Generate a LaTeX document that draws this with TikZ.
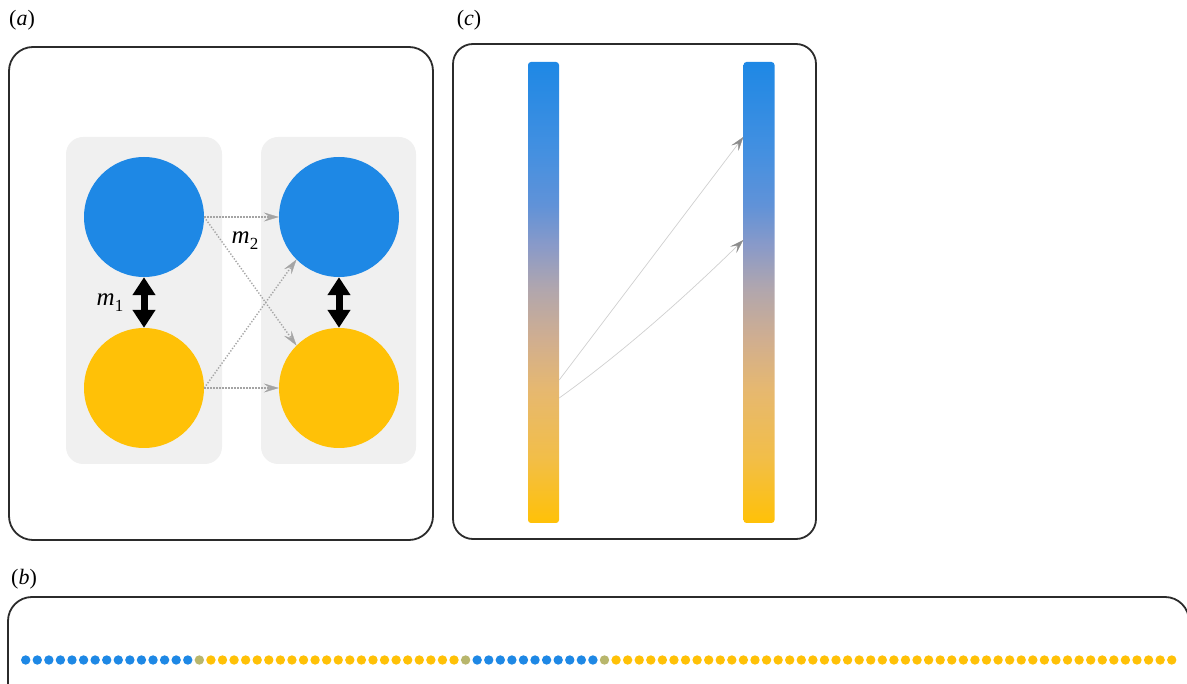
\documentclass[tikz,border=0pt]{standalone}
\usepackage{fontspec}
\setmainfont{Liberation Serif}
\usetikzlibrary{arrows.meta}
\definecolor{cblue}{HTML}{1E88E5}
\definecolor{camber}{HTML}{FFC107}
\definecolor{colive}{HTML}{B8B66C}
\definecolor{panelgray}{HTML}{F0F0F0}
\definecolor{framec}{HTML}{2B2B2B}
\definecolor{dotgray}{HTML}{A4A4A4}
\definecolor{tipgray}{HTML}{8C8C8C}
\definecolor{thingray}{HTML}{CFCFCF}
\definecolor{ga}{HTML}{4590E0}
\definecolor{gb}{HTML}{6092D8}
\definecolor{gc}{HTML}{8A9AC8}
\definecolor{gd}{HTML}{B0A6AE}
\definecolor{ge}{HTML}{D0AE90}
\definecolor{gf}{HTML}{E6B870}
\definecolor{gg}{HTML}{F2BE48}
\pgfdeclareverticalshading{bargrad}{100bp}{color(0bp)=(camber); color(25bp)=(camber); color(32bp)=(gg); color(39.5bp)=(gf); color(45bp)=(ge); color(50.5bp)=(gd); color(55bp)=(gc); color(59.5bp)=(gb); color(65bp)=(ga); color(75bp)=(cblue); color(100bp)=(cblue)}
\tikzset{
  frame/.style={draw=framec, line width=1.8pt, rounded corners=24pt},
  panel/.style={fill=panelgray, rounded corners=17pt},
  ball/.style={circle, minimum size=120pt, inner sep=0pt},
  dotarrow/.style={draw=dotgray, line width=1.4pt, dash pattern=on 1.3pt off 1.7pt, -{Stealth[length=15pt,width=9pt,inset=6pt,color=dotgray,fill=dotgray,line width=0.3pt]}},
  dblarrow/.style={draw=black, line width=7pt, {Triangle[length=18pt,width=22pt]}-{Triangle[length=18pt,width=22pt]}},
  bar/.style={shading=bargrad, rounded corners=3pt, minimum width=31pt, minimum height=461pt, inner sep=0pt},
  thinarrow/.style={draw=thingray, line width=0.7pt, -{Stealth[length=14pt,width=9pt,inset=6pt,color=tipgray,fill=tipgray,line width=0.3pt]}},
  seqdot/.style={circle, minimum size=9.4pt, inner sep=0pt},
  lab/.style={font=\fontsize{22}{26}\selectfont, inner sep=0pt},
  mlab/.style={font=\fontsize{25}{28}\selectfont, inner sep=0pt}
}
\begin{document}
\begin{tikzpicture}[x=1pt, y=-1pt]
\useasboundingbox (0,0) rectangle (1187,684);
\clip (0,0) rectangle (1187,684);
% labels
\node[lab] (la) at (22,20) {(\textit{a})};
\node[lab] (lc) at (469,20) {(\textit{c})};
\node[lab] (lbb) at (24,579) {(\textit{b})};
% panel a
\draw[frame] (9,47) rectangle (433,540);
\fill[panel] (66,137) rectangle (222,464);
\fill[panel] (261,137) rectangle (416,464);
\node[ball, fill=cblue] (lb) at (144,217) {};
\node[ball, fill=camber] (ly) at (144,388) {};
\node[ball, fill=cblue] (rb) at (339,217) {};
\node[ball, fill=camber] (ry) at (339,388) {};
\draw[dblarrow] (lb.south) -- (ly.north);
\draw[dblarrow] (rb.south) -- (ry.north);
\draw[dotarrow] (lb.east) -- (rb.west);
\draw[dotarrow] (lb.east) -- (ry.135);
\draw[dotarrow] (ly.east) -- (rb.225);
\draw[dotarrow] (ly.east) -- (ry.west);
\node[mlab] (m1) at (110,303) {\textit{m}\raisebox{-6pt}{\fontsize{17}{17}\selectfont 1}};
\node[mlab] (m2) at (245,241) {\textit{m}\raisebox{-6pt}{\fontsize{17}{17}\selectfont 2}};
% panel c
\draw[frame, rounded corners=20pt] (453,44) rectangle (816,539);
\node[bar] (lbar) at (543.5,292.5) {};
\node[bar] (rbar) at (759,292.5) {};
\draw[thinarrow] ([yshift=-87.5pt]lbar.east) -- ([yshift=155.5pt]rbar.west);
\draw[thinarrow] ([yshift=-105.5pt]lbar.east) .. controls (622,353) and (684,298) .. ([yshift=52.5pt]rbar.west);
% panel b
\draw[frame] (8,597) rectangle (1189,720);
\foreach \i in {0,...,14,39,40,...,49} {\node[seqdot, fill=cblue] (d\i) at ({25.7+\i*11.576},660) {};}
\foreach \i in {15,38,50} {\node[seqdot, fill=colive] (d\i) at ({25.7+\i*11.576},660) {};}
\foreach \i in {16,...,37,51,52,...,99} {\node[seqdot, fill=camber] (d\i) at ({25.7+\i*11.576},660) {};}
\end{tikzpicture}
\end{document}
